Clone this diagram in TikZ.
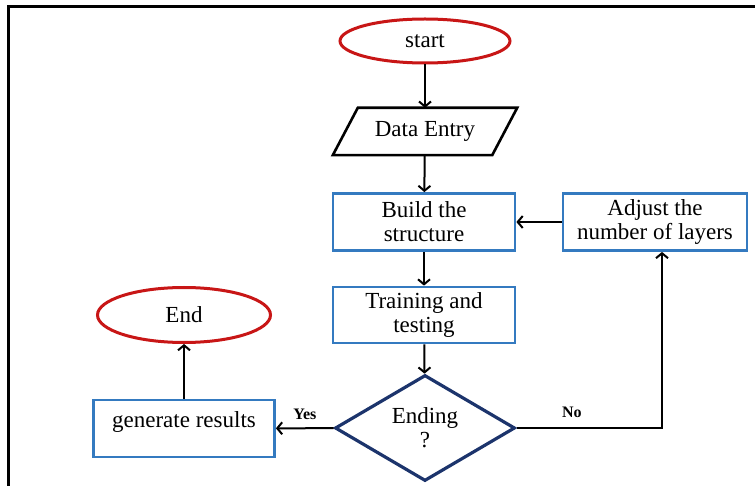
\documentclass[tikz,border=0pt]{standalone}
\usepackage{fontspec}
\setmainfont{Liberation Serif}
\usetikzlibrary{shapes.geometric,arrows.meta}
\definecolor{termred}{RGB}{200,22,22}
\definecolor{boxblue}{RGB}{52,122,192}
\definecolor{decnavy}{RGB}{28,52,108}
\begin{document}
\begin{tikzpicture}[x=1pt,y=-1pt,
    font=\fontsize{23}{24}\selectfont,
    terminal/.style={draw=termred,line width=3pt,ellipse,inner sep=0pt},
    process/.style={draw=boxblue,line width=2.8pt,align=center,inner sep=0pt,
      minimum width=182pt,minimum height=57pt},
    decision/.style={draw=decnavy,line width=3.2pt,diamond,aspect=1.7,
      align=center,inner sep=0pt,minimum width=180pt,minimum height=106pt},
    flow/.style={line width=2pt,-{Straight Barb[length=5pt,width=12pt]}},
    lbl/.style={font=\fontsize{16}{18}\selectfont\bfseries}]
  \useasboundingbox (0,0) rectangle (755,486);
  % frame
  \draw[line width=3pt] (8,486) -- (8,7) -- (755,7);
  \draw
    (425,41) node[terminal,minimum width=170pt,minimum height=44pt] (start){start}
    (425,131.5) node[minimum width=184pt,minimum height=47pt,inner sep=0pt] (entry){Data Entry}
    (424,222) node[process] (build){Build the\\structure}
    (655,222) node[process,minimum width=184pt] (adjust){Adjust the\\number of layers}
    (424,315) node[process,minimum height=56pt] (train){Training and\\testing}
    (425,428) node[decision] (ending){Ending\\?}
    (184,428.5) node[process,minimum width=181pt,text depth=18pt] (gen){generate results}
    (184,315) node[terminal,minimum width=173pt,minimum height=55pt] (end){End};
  \draw[line width=2.6pt,line join=miter]
    ([xshift=25pt]entry.north west) -- (entry.north east)
    -- ([xshift=-25pt]entry.south east) -- (entry.south west) -- cycle;
  \begin{scope}[flow]
    \draw (start) to (entry);
    \draw (entry) to (build);
    \draw (adjust) to (build);
    \draw (build) to (train);
    \draw (train) to (ending);
    \draw (ending) to node[lbl,above=4pt] (yes){Yes} (gen);
    \draw (gen) to (end);
    \draw (ending.east) -| node[lbl,pos=0.19,above=6pt] (no){No} ([xshift=7pt]adjust.south);
  \end{scope}
\end{tikzpicture}
\end{document}
